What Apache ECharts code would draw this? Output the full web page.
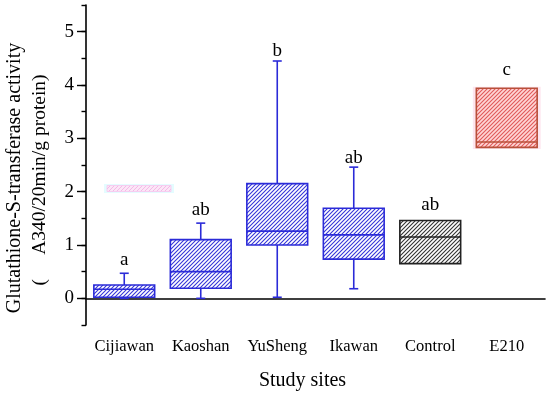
<!DOCTYPE html>
<html>
<head>
<meta charset="utf-8">
<script src="https://cdn.jsdelivr.net/npm/echarts@6/dist/echarts.min.js"></script>
<style>html,body{margin:0;padding:0;background:#fff}#c{width:550px;height:396px}</style>
</head>
<body>
<div id="c"></div>
<script>
// ---- data ----
var categories = ['Cijiawan', 'Kaoshan', 'YuSheng', 'Ikawan', 'Control', 'E210'];
var whiskerLow  = [0.00, 0.00, 0.02, 0.18, 0.65, 2.83];
var q1          = [0.02, 0.19, 1.00, 0.735, 0.65, 2.83];
var medians     = [0.17, 0.50, 1.26, 1.19, 1.15, 2.93];
var q3          = [0.25, 1.10, 2.15, 1.69, 1.46, 3.94];
var whiskerHigh = [0.47, 1.41, 4.45, 2.46, 1.46, 3.94];
var letters     = ['a', 'ab', 'b', 'ab', 'ab', 'c'];
var letterY     = [0.63, 1.56, 4.54, 2.54, 1.65, 4.19];
var yTickValues = [0, 1, 2, 3, 4, 5];

var FONT = "'Liberation Serif','Times New Roman',serif";

function hatch(line, bg, size, lw) {
  var c = document.createElement('canvas');
  c.width = size; c.height = size;
  var g = c.getContext('2d');
  g.fillStyle = bg; g.fillRect(0, 0, size, size);
  g.strokeStyle = line; g.lineWidth = lw;
  g.beginPath();
  g.moveTo(-1, size + 1); g.lineTo(size + 1, -1);
  g.moveTo(-1, 1); g.lineTo(1, -1);
  g.moveTo(size - 1, size + 1); g.lineTo(size + 1, size - 1);
  g.stroke();
  return { image: c, repeat: 'repeat' };
}

var blueStyle = { stroke: '#2b2bd8', fill: hatch('#3535d8', '#ffffff', 4, 1.1), halo: null };
var styles = [blueStyle, blueStyle, blueStyle, blueStyle,
  { stroke: '#222222', fill: hatch('#333333', '#ffffff', 4, 1.1), halo: null },
  { stroke: '#b8503a', fill: hatch('#e05a5a', '#ffd6d6', 4, 1.1), halo: '#fde6ef' }];

var seriesData = categories.map(function (c, i) {
  return [i, whiskerLow[i], q1[i], medians[i], q3[i], whiskerHigh[i]];
});

var chart = echarts.init(document.getElementById('c'), null, { renderer: 'canvas' });
chart.setOption({
  backgroundColor: '#ffffff',
  animation: false,
  grid: { left: 86, right: 5, top: 5, bottom: 67 },
  xAxis: {
    type: 'category',
    data: categories,
    boundaryGap: true,
    axisLine: { lineStyle: { color: '#000', width: 1.6 } },
    axisTick: { alignWithLabel: true, length: 6, lineStyle: { color: '#000', width: 1.4 } },
    axisLabel: { interval: 0, fontFamily: FONT, fontSize: 16.5, color: '#000', margin: 13 },
    name: 'Study sites',
    nameLocation: 'middle',
    nameGap: 46,
    nameTextStyle: { fontFamily: FONT, fontSize: 20, color: '#000', padding: [0, 26, 0, 0] }
  },
  yAxis: [{
    type: 'value',
    min: -0.5,
    max: 5.5,
    splitLine: { show: false },
    axisLine: { show: true, lineStyle: { color: '#000', width: 1.6 } },
    axisTick: { show: true, length: 9, customValues: yTickValues, lineStyle: { color: '#000', width: 1.4 } },
    axisLabel: { fontFamily: FONT, fontSize: 19, color: '#000', margin: 12, customValues: yTickValues }
  }, {
    type: 'value',
    position: 'left',
    min: -0.5,
    max: 5.5,
    interval: 0.5,
    splitLine: { show: false },
    axisLine: { show: false },
    axisTick: { show: true, length: 4.5, lineStyle: { color: '#000', width: 1.4 } },
    axisLabel: { show: false }
  }],
  graphic: [
    { type: 'text', x: 15, y: 178, rotation: Math.PI / 2,
      style: { text: 'Glutathione-S-transferase activity', font: '20px ' + FONT, fill: '#000', textAlign: 'center', textVerticalAlign: 'middle' } },
    { type: 'text', x: 40, y: 180, rotation: Math.PI / 2,
      style: { text: '(     A340/20min/g protein)', font: '19.5px ' + FONT, fill: '#000', textAlign: 'center', textVerticalAlign: 'middle' } },
    { type: 'rect', shape: { x: 104, y: 184, width: 70, height: 9 }, style: { fill: '#e4fcff' }, z: 1 },
    { type: 'rect', shape: { x: 107, y: 185.5, width: 64, height: 6 }, style: { fill: hatch('#f4b8e8', '#fbe6f6', 4, 1), stroke: '#f7c6ee', lineWidth: 0.8 }, z: 2 }
  ],
  series: [{
    type: 'custom',
    yAxisIndex: 0,
    data: seriesData,
    encode: { x: 0, y: [1, 2, 3, 4, 5] },
    renderItem: function (params, api) {
      var i = api.value(0);
      var st = styles[i];
      var bw = api.size([1, 0])[0] * 0.795;
      var cx = api.coord([i, 0])[0];
      var Y = function (v) { return api.coord([i, v])[1]; };
      var yMin = Y(api.value(1)), yQ1 = Y(api.value(2)), yMed = Y(api.value(3)),
          yQ3 = Y(api.value(4)), yMax = Y(api.value(5));
      var cap = 4.5;
      var lineStyle = { stroke: st.stroke, lineWidth: 1.6 };
      var ch = [];
      if (st.halo) {
        ch.push({ type: 'rect', shape: { x: cx - bw / 2 - 3.5, y: yQ3 - 1.5, width: bw + 7, height: yQ1 - yQ3 + 3 }, style: { fill: st.halo } });
      }
      ch.push({ type: 'line', shape: { x1: cx, y1: yQ3, x2: cx, y2: yMax }, style: lineStyle });
      ch.push({ type: 'line', shape: { x1: cx, y1: yQ1, x2: cx, y2: yMin }, style: lineStyle });
      if (yMax < yQ3 - 0.5) ch.push({ type: 'line', shape: { x1: cx - cap, y1: yMax, x2: cx + cap, y2: yMax }, style: lineStyle });
      if (yMin > yQ1 + 0.5) ch.push({ type: 'line', shape: { x1: cx - cap, y1: yMin, x2: cx + cap, y2: yMin }, style: lineStyle });
      ch.push({ type: 'rect', shape: { x: cx - bw / 2, y: yQ3, width: bw, height: yQ1 - yQ3 },
        style: { fill: st.fill, stroke: st.stroke, lineWidth: 1.6 } });
      ch.push({ type: 'line', shape: { x1: cx - bw / 2, y1: yMed, x2: cx + bw / 2, y2: yMed }, style: lineStyle });
      ch.push({ type: 'text', x: cx, y: Y(letterY[params.dataIndex]) + 4.5,
        style: { text: letters[params.dataIndex], font: '19px ' + FONT, fill: '#000', textAlign: 'center', textVerticalAlign: 'bottom' } });
      return { type: 'group', children: ch };
    }
  }]
});
</script>
</body>
</html>
